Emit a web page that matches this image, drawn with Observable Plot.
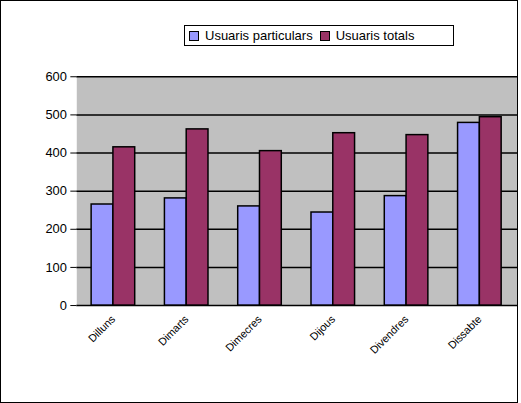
<!DOCTYPE html>
<html><head><meta charset="utf-8">
<script src="https://cdn.jsdelivr.net/npm/d3@7"></script>
<script src="https://cdn.jsdelivr.net/npm/@observablehq/plot@0.6"></script>
<style>
body{margin:0;font-family:"Liberation Sans",Arial,sans-serif;}
#wrap{position:relative;width:516px;height:401px;border:1px solid #000;overflow:hidden;}
#chart{position:absolute;left:0;top:0;}
#legend{position:absolute;left:183px;top:24px;width:270px;height:21px;border:1px solid #000;background:#fff;font-size:13px;display:flex;align-items:center;gap:4px;padding-left:4px;box-sizing:border-box;}
.sw{display:inline-block;width:8px;height:8px;border:1px solid #000;margin-right:2px;}
</style></head><body>
<div id="wrap"><div id="chart"></div>
<div id="legend"><span class="sw" style="background:#9999ff"></span>Usuaris particulars <span class="sw" style="background:#993366;margin-left:3px"></span>Usuaris totals</div></div>
<script>
const dies = ["Dilluns", "Dimarts", "Dimecres", "Dijous", "Divendres", "Dissabte"];
const series = ["Usuaris particulars", "Usuaris totals"];
const particulars = [265, 281, 260, 244, 287, 479];
const totals = [415, 462, 405, 452, 447, 494];
const yTicks = [0, 100, 200, 300, 400, 500, 600];

const dataP = dies.map((d, i) => ({dia: d, valor: particulars[i]}));
const dataT = dies.map((d, i) => ({dia: d, valor: totals[i]}));

const chart = Plot.plot({
  width: 521, height: 403,
  marginLeft: 76, marginTop: 76, marginBottom: 96, marginRight: 0,
  style: {fontFamily: "Liberation Sans, Arial, sans-serif", fontSize: "13px", color: "#000", background: "transparent"},
  x: {domain: dies, paddingInner: 0.4, paddingOuter: 0.2, label: null, tickRotate: -45, tickSize: 0, tickPadding: 12},
  y: {domain: [0, 600], ticks: yTicks, label: null, tickSize: 6, tickPadding: 4},
  marks: [
    Plot.frame({fill: "#c0c0c0", stroke: null}),
    Plot.ruleY(yTicks, {stroke: "#000", strokeWidth: 1.5}),
    Plot.barY(dataP, {x: "dia", y: "valor", fill: "#9999ff", stroke: "#000", strokeWidth: 1.5, insetRight: 22}),
    Plot.barY(dataT, {x: "dia", y: "valor", fill: "#993366", stroke: "#000", strokeWidth: 1.5, insetLeft: 22}),
    Plot.ruleX([0], {frameAnchor: "left", stroke: "#000", strokeWidth: 1.5})
  ]
});
chart.querySelectorAll("[aria-label='x-axis tick label'] text").forEach(t => t.style.fontSize = "11px");
document.getElementById("chart").append(chart);
</script></body></html>
